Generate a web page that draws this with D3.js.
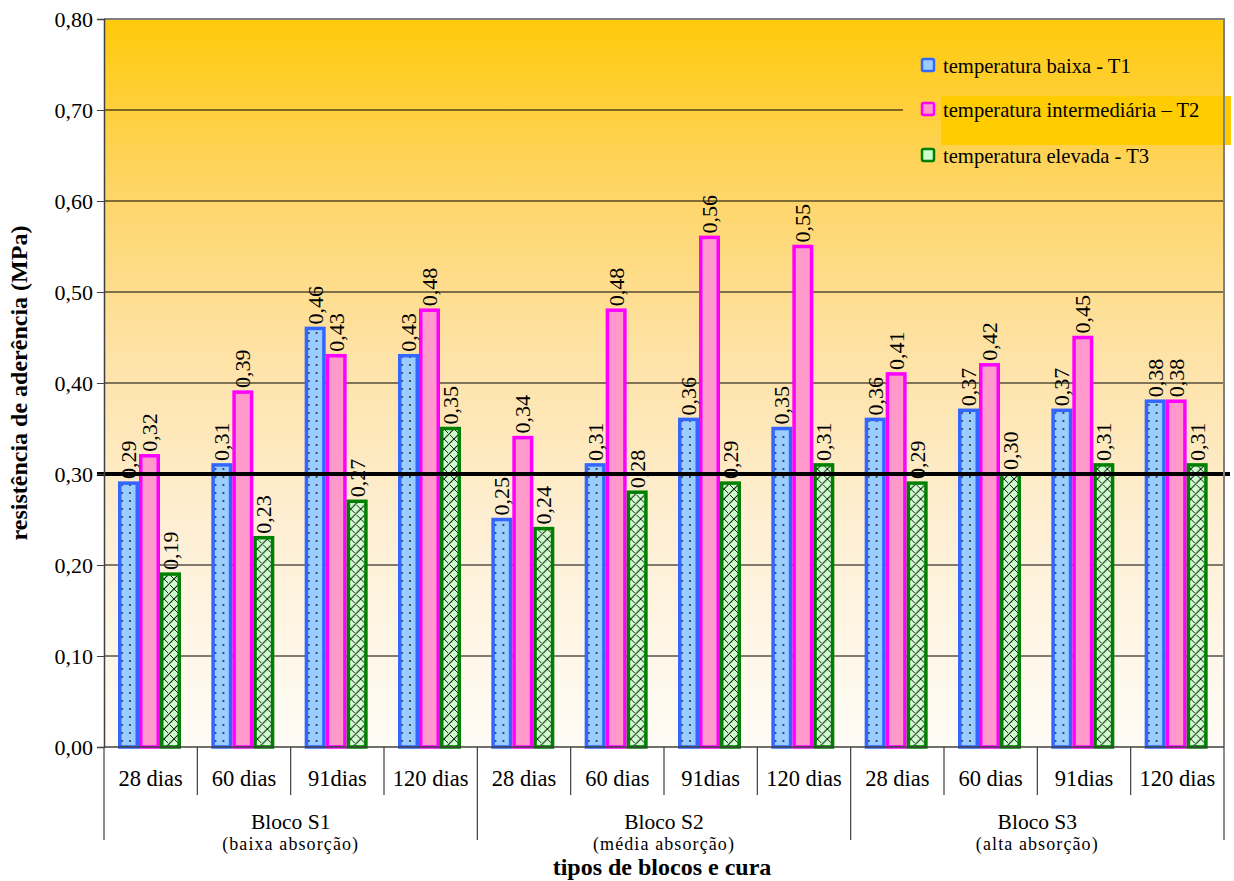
<!DOCTYPE html>
<html>
<head>
<meta charset="utf-8">
<script src="https://cdn.jsdelivr.net/npm/d3@7/dist/d3.min.js"></script>
<style>
  html, body { margin: 0; padding: 0; background: #ffffff; }
  svg { display: block; }
</style>
</head>
<body>
<svg id="chart" width="1234" height="881"></svg>
<script>
// Bond strength by block type, curing age and curing temperature
const blocks = ["Bloco S1", "Bloco S2", "Bloco S3"];
const blockNotes = ["(baixa absorção)", "(média absorção)", "(alta absorção)"];
const ages = ["28 dias", "60 dias", "91dias", "120 dias"];
const seriesNames = ["temperatura baixa - T1", "temperatura intermediária – T2", "temperatura elevada - T3"];

const t1Values = [0.29, 0.31, 0.46, 0.43, 0.25, 0.31, 0.36, 0.35, 0.36, 0.37, 0.37, 0.38];
const t2Values = [0.32, 0.39, 0.43, 0.48, 0.34, 0.48, 0.56, 0.55, 0.41, 0.42, 0.45, 0.38];
const t3Values = [0.19, 0.23, 0.27, 0.35, 0.24, 0.28, 0.29, 0.31, 0.29, 0.30, 0.31, 0.31];

const yTicks = [0, 0.1, 0.2, 0.3, 0.4, 0.5, 0.6, 0.7, 0.8];
const referenceValue = 0.30;

const FONT = '"Liberation Serif", "Times New Roman", Tinos, serif';

const svg = d3.select("#chart");
const margin = { left: 104, right: 10, top: 19, bottom: 134 };
const W = 1234, H = 881;
const plotW = W - margin.left - margin.right;  // 1120
const plotH = H - margin.top - margin.bottom;  // 728

const categories = [];
blocks.forEach((b, bi) => ages.forEach((a, ai) => categories.push({ key: b + "|" + a, block: bi, age: a })));

const x = d3.scaleBand().domain(categories.map(c => c.key)).range([0, plotW]).padding(0);
const y = d3.scaleLinear().domain([0, 0.8]).range([plotH, 0]);
const xInner = d3.scaleBand().domain([0, 1, 2]).range([14, 14 + 63]).padding(0);

const defs = svg.append("defs");

// plot background: gold fading to near white
const bgStops = [[0, "#FFCA0A"], [0.22, "#FED462"], [0.45, "#FEE2A4"], [0.7, "#FEEFD4"], [1, "#FFFCF6"]];
function addGradient(id, offsetY) {
  const gr = defs.append("linearGradient")
    .attr("id", id).attr("gradientUnits", "userSpaceOnUse")
    .attr("x1", 0).attr("y1", -offsetY).attr("x2", 0).attr("y2", plotH - offsetY);
  bgStops.forEach(([o, c]) => gr.append("stop").attr("offset", o).attr("stop-color", c));
}
addGradient("bg", 0);
addGradient("bgLegend", 12);

// dotted fill for T1
const pDots = defs.append("pattern").attr("id", "dots").attr("patternUnits", "userSpaceOnUse")
  .attr("width", 8).attr("height", 8);
pDots.append("rect").attr("width", 8).attr("height", 8).attr("fill", "#99CCFF");
pDots.append("circle").attr("cx", 2).attr("cy", 2).attr("r", 1.1).attr("fill", "#333");

// trellis fill for T3
const pHatch = defs.append("pattern").attr("id", "hatch").attr("patternUnits", "userSpaceOnUse")
  .attr("width", 10).attr("height", 10);
pHatch.append("rect").attr("width", 10).attr("height", 10).attr("fill", "#CCFFCC");
pHatch.append("path").attr("d", "M0,10 L10,0 M-2,2 L2,-2 M8,12 L12,8")
  .attr("stroke", "#222").attr("stroke-width", 1.2);
pHatch.append("path").attr("d", "M0,0 L4,4 M6,6 L10,10")
  .attr("stroke", "#222").attr("stroke-width", 1);

const fills = ["url(#dots)", "#FF99CC", "url(#hatch)"];
const strokes = ["#3366FF", "#FF00FF", "#008000"];
const legendFills = ["#99CCFF", "#FF99CC", "#CCFFCC"];

function label(sel, size, weight) {
  return sel.style("font-family", FONT).style("font-size", size + "px")
    .style("font-weight", weight || "normal").attr("fill", "#000");
}

const g = svg.append("g").attr("transform", `translate(${margin.left},${margin.top})`);

g.append("rect").attr("width", plotW).attr("height", plotH).attr("fill", "url(#bg)");

// gridlines
g.append("g").selectAll("line").data(yTicks.slice(1)).join("line")
  .attr("x1", 0).attr("x2", plotW)
  .attr("y1", d => y(d)).attr("y2", d => y(d))
  .attr("stroke", "#000").attr("stroke-width", 1);

// legend panel (same background so it hides the gridlines beneath)
const lg = g.append("g").attr("transform", "translate(799,12)");
lg.append("rect").attr("x", 0).attr("y", 0).attr("width", plotW - 799).attr("height", 165)
  .attr("fill", "url(#bgLegend)");
// highlighted entry background
lg.append("rect").attr("x", 38).attr("y", 65).attr("width", 290).attr("height", 49).attr("fill", "#FFCC00");

const legendY = [35, 79, 125];
seriesNames.forEach((name, i) => {
  lg.append("rect").attr("x", 19).attr("y", legendY[i] - 7).attr("width", 12).attr("height", 12)
    .attr("rx", 1.5).attr("fill", legendFills[i]).attr("stroke", strokes[i]).attr("stroke-width", 2.5);
  label(lg.append("text").attr("x", 40).attr("y", legendY[i]).attr("dy", "0.35em"), 20.6).text(name);
});

// bars
const series = [t1Values, t2Values, t3Values];
const barW = xInner.bandwidth();
categories.forEach((c, ci) => {
  const cg = g.append("g").attr("transform", `translate(${x(c.key)},0)`);
  series.forEach((vals, si) => {
    const v = vals[ci];
    const bx = xInner(si);
    cg.append("rect")
      .attr("x", bx + 1.75).attr("y", y(v))
      .attr("width", barW - 3.5).attr("height", y(0) - y(v))
      .attr("fill", fills[si]).attr("stroke", strokes[si]).attr("stroke-width", 3.5);
  });
});

// reference line at 0,30
g.append("line")
  .attr("x1", -7).attr("x2", plotW + 6)
  .attr("y1", y(referenceValue)).attr("y2", y(referenceValue))
  .attr("stroke", "#000").attr("stroke-width", 4);

// value labels (vertical)
categories.forEach((c, ci) => {
  series.forEach((vals, si) => {
    const v = vals[ci];
    const cx = x(c.key) + xInner(si) + barW / 2;
    label(g.append("text")
      .attr("transform", `translate(${cx + 7.5},${y(v) - 4}) rotate(-90)`), 22)
      .text(d3.format(".2f")(v).replace(".", ","));
  });
});

// plot frame: top and right in gray
g.append("path").attr("d", `M0,0 H${plotW} V${plotH}`).attr("fill", "none")
  .attr("stroke", "#808080").attr("stroke-width", 2);

// y axis
const yAxis = d3.axisLeft(y).tickValues(yTicks).tickSize(7).tickPadding(4)
  .tickFormat(d => d3.format(".2f")(d).replace(".", ","));
const ya = g.append("g").call(yAxis);
ya.select(".domain").attr("stroke", "#404040").attr("stroke-width", 1.5);
ya.selectAll(".tick line").attr("stroke", "#404040");
label(ya.selectAll(".tick text"), 22);

// x axis: category row and block row
g.append("line").attr("x1", 0).attr("x2", plotW).attr("y1", plotH).attr("y2", plotH)
  .attr("stroke", "#404040").attr("stroke-width", 1.5);
categories.forEach((c, ci) => {
  const x0 = x(c.key);
  const isBlockEdge = ci % ages.length === 0;
  g.append("line").attr("x1", x0).attr("x2", x0).attr("y1", plotH)
    .attr("y2", plotH + (isBlockEdge ? 93 : 48))
    .attr("stroke", "#404040").attr("stroke-width", 1.2);
  label(g.append("text").attr("x", x0 + x.bandwidth() / 2).attr("y", plotH + 39)
    .attr("text-anchor", "middle"), 22.5).text(c.age);
});
g.append("line").attr("x1", plotW).attr("x2", plotW).attr("y1", plotH).attr("y2", plotH + 93)
  .attr("stroke", "#404040").attr("stroke-width", 1.2);

blocks.forEach((b, bi) => {
  const first = x(categories[bi * ages.length].key);
  const cx = first + x.bandwidth() * ages.length / 2;
  label(g.append("text").attr("x", cx).attr("y", plotH + 82)
    .attr("text-anchor", "middle"), 21.5).text(b);
  label(g.append("text").attr("x", cx).attr("y", plotH + 103)
    .attr("text-anchor", "middle"), 18).style("letter-spacing", "1.1px").text(blockNotes[bi]);
});

// axis titles
label(svg.append("text").attr("x", margin.left + plotW / 2 - 2).attr("y", 875)
  .attr("text-anchor", "middle"), 24, "bold").text("tipos de blocos e cura");
label(svg.append("text")
  .attr("transform", `translate(27,${margin.top + plotH / 2}) rotate(-90)`)
  .attr("text-anchor", "middle"), 24, "bold").text("resistência de aderência (MPa)");
</script>
</body>
</html>
